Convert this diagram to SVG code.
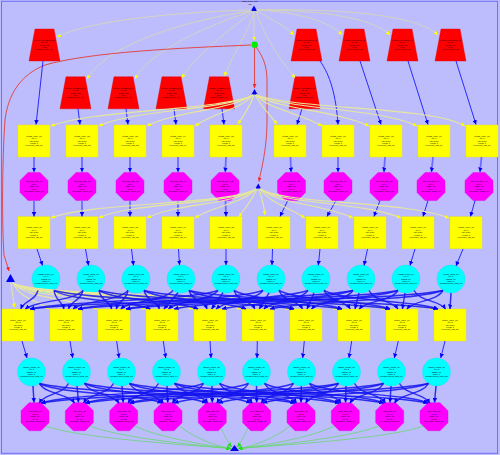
<svg xmlns="http://www.w3.org/2000/svg" width="500" height="455" viewBox="0 0 500 455">
<defs>
<style>
.tx{font-family:"Liberation Sans",Arial,sans-serif;font-size:2.2px;fill:#000;text-anchor:middle}
.tz{fill:#ff0000;stroke:#e00000;stroke-width:0.4}
.sq{fill:#ffff00;stroke:#e6e600;stroke-width:0.4}
.oc{fill:#ff00ff;stroke:#e600e6;stroke-width:0.4}
.ci{fill:#00ffff;stroke:#00e6e6;stroke-width:0.4}
.tri{fill:#0000ee}
path{fill:none}
.eg{stroke:#d6d6b8;stroke-width:0.9;marker-end:url(#ay)}
.ey{stroke:#e6e69c;stroke-width:1.1;marker-end:url(#ay)}
.er{stroke:#e04848;stroke-width:1;marker-end:url(#ar)}
.eb{stroke:#2a2aff;stroke-width:1;marker-end:url(#ab)}
.ebt{stroke:#6c6cff;stroke-width:1.8;marker-end:url(#ab)}
.ex{stroke:#1414f0;stroke-width:1.45;stroke-opacity:0.85;marker-end:url(#ab)}
.egr{stroke:#5fd85f;stroke-width:0.7;marker-end:url(#ag)}
</style>
<marker id="ab" viewBox="0 0 6 6" refX="6" refY="3" markerWidth="4.5" markerHeight="4.5" markerUnits="userSpaceOnUse" orient="auto"><path d="M0,0L6,3L0,6z" style="fill:#0000ff"/></marker>
<marker id="ay" viewBox="0 0 6 6" refX="6" refY="3" markerWidth="4" markerHeight="4" markerUnits="userSpaceOnUse" orient="auto"><path d="M0,0L6,3L0,6z" style="fill:#ffff00"/></marker>
<marker id="ar" viewBox="0 0 6 6" refX="6" refY="3" markerWidth="4" markerHeight="4" markerUnits="userSpaceOnUse" orient="auto"><path d="M0,0L6,3L0,6z" style="fill:#ff2020"/></marker>
<marker id="ag" viewBox="0 0 6 6" refX="6" refY="3" markerWidth="4.5" markerHeight="4.5" markerUnits="userSpaceOnUse" orient="auto"><path d="M0,0L6,3L0,6z" style="fill:#22dd22"/></marker>
<polygon id="tz" points="-9.5,-16 9.5,-16 15.5,16 -15.5,16"/>
<rect id="sq" x="-16" y="-16" width="32" height="32"/>
<polygon id="oc" points="-6,-14 6,-14 14,-6 14,6 6,14 -6,14 -14,6 -14,-6"/>
<circle id="ci" r="14"/>
</defs>
<rect width="500" height="455" fill="#bdbdfd"/>
<rect x="1.5" y="1.3" width="496" height="452" fill="none" stroke="#7070f0" stroke-width="1"/>

<g id="nodes">
<g id="top"><polygon class="tri" points="254,5.5 251,11 257,11"/><text class="tx"><tspan x="250" y="2.2">start_node_root</tspan><tspan x="250" y="4.8">init</tspan></text></g>
<g id="hub"><circle cx="254.7" cy="44.7" r="3.2" fill="#00ee00"/></g>
<g id="tri2"><polygon class="tri" points="254.5,89 251.5,94.5 257.5,94.5"/></g>
<g id="tri3"><polygon class="tri" points="258.3,183.5 255.5,188.5 261,188.5"/></g>
<g id="tri4"><polygon class="tri" points="10.5,274 6,282 15,282"/></g>
<g id="end"><polygon class="tri" points="234.5,445 230,451 239,451"/></g>

<g id="a1" transform="translate(44.5,45)"><use href="#tz" class="tz"/><text class="tx"><tspan x="0" y="-4.2">service_definition_01</tspan><tspan x="0" y="-1.9">id: 01</tspan><tspan x="0" y="1.2">mode: init</tspan><tspan x="0" y="3.1">in: 0</tspan><tspan x="0" y="5.2">source_node_01</tspan></text></g>
<g id="a2" transform="translate(306.5,45)"><use href="#tz" class="tz"/><text class="tx"><tspan x="0" y="-4.2">service_definition_02</tspan><tspan x="0" y="-1.9">id: 02</tspan><tspan x="0" y="1.2">mode: init</tspan><tspan x="0" y="3.1">in: 0</tspan><tspan x="0" y="5.2">source_node_02</tspan></text></g>
<g id="a3" transform="translate(354.5,45)"><use href="#tz" class="tz"/><text class="tx"><tspan x="0" y="-4.2">service_definition_03</tspan><tspan x="0" y="-1.9">id: 03</tspan><tspan x="0" y="1.2">mode: init</tspan><tspan x="0" y="3.1">in: 0</tspan><tspan x="0" y="5.2">source_node_03</tspan></text></g>
<g id="a4" transform="translate(402.5,45)"><use href="#tz" class="tz"/><text class="tx"><tspan x="0" y="-4.2">service_definition_04</tspan><tspan x="0" y="-1.9">id: 04</tspan><tspan x="0" y="1.2">mode: init</tspan><tspan x="0" y="3.1">in: 0</tspan><tspan x="0" y="5.2">source_node_04</tspan></text></g>
<g id="a5" transform="translate(450.5,45)"><use href="#tz" class="tz"/><text class="tx"><tspan x="0" y="-4.2">service_definition_05</tspan><tspan x="0" y="-1.9">id: 05</tspan><tspan x="0" y="1.2">mode: init</tspan><tspan x="0" y="3.1">in: 0</tspan><tspan x="0" y="5.2">source_node_05</tspan></text></g>
<g id="b1" transform="translate(75.5,92.8)"><use href="#tz" class="tz"/><text class="tx"><tspan x="0" y="-4.2">service_definition_06</tspan><tspan x="0" y="-1.9">id: 06</tspan><tspan x="0" y="1.2">mode: init</tspan><tspan x="0" y="3.1">in: 0</tspan><tspan x="0" y="5.2">source_node_06</tspan></text></g>
<g id="b2" transform="translate(123.5,92.8)"><use href="#tz" class="tz"/><text class="tx"><tspan x="0" y="-4.2">service_definition_07</tspan><tspan x="0" y="-1.9">id: 07</tspan><tspan x="0" y="1.2">mode: init</tspan><tspan x="0" y="3.1">in: 0</tspan><tspan x="0" y="5.2">source_node_07</tspan></text></g>
<g id="b3" transform="translate(171.5,92.8)"><use href="#tz" class="tz"/><text class="tx"><tspan x="0" y="-4.2">service_definition_08</tspan><tspan x="0" y="-1.9">id: 08</tspan><tspan x="0" y="1.2">mode: init</tspan><tspan x="0" y="3.1">in: 0</tspan><tspan x="0" y="5.2">source_node_08</tspan></text></g>
<g id="b4" transform="translate(219,92.8)"><use href="#tz" class="tz"/><text class="tx"><tspan x="0" y="-4.2">service_definition_09</tspan><tspan x="0" y="-1.9">id: 09</tspan><tspan x="0" y="1.2">mode: init</tspan><tspan x="0" y="3.1">in: 0</tspan><tspan x="0" y="5.2">source_node_09</tspan></text></g>
<g id="b5" transform="translate(304.5,92.8)"><use href="#tz" class="tz"/><text class="tx"><tspan x="0" y="-4.2">service_definition_10</tspan><tspan x="0" y="-1.9">id: 10</tspan><tspan x="0" y="1.2">mode: init</tspan><tspan x="0" y="3.1">in: 0</tspan><tspan x="0" y="5.2">source_node_10</tspan></text></g>

<g id="c1" transform="translate(34,141)"><use href="#sq" class="sq"/><text class="tx"><tspan x="0" y="-4.4">config_entry_01</tspan><tspan x="0" y="-1.9">op: 0</tspan><tspan x="0" y="0.6">val: none</tspan><tspan x="0" y="3">count: 1</tspan><tspan x="0" y="5.4">reference_list_01</tspan></text></g>
<g id="c2" transform="translate(82,141)"><use href="#sq" class="sq"/><text class="tx"><tspan x="0" y="-4.4">config_entry_02</tspan><tspan x="0" y="-1.9">op: 0</tspan><tspan x="0" y="0.6">val: none</tspan><tspan x="0" y="3">count: 1</tspan><tspan x="0" y="5.4">reference_list_02</tspan></text></g>
<g id="c3" transform="translate(130,141)"><use href="#sq" class="sq"/><text class="tx"><tspan x="0" y="-4.4">config_entry_03</tspan><tspan x="0" y="-1.9">op: 0</tspan><tspan x="0" y="0.6">val: none</tspan><tspan x="0" y="3">count: 1</tspan><tspan x="0" y="5.4">reference_list_03</tspan></text></g>
<g id="c4" transform="translate(178,141)"><use href="#sq" class="sq"/><text class="tx"><tspan x="0" y="-4.4">config_entry_04</tspan><tspan x="0" y="-1.9">op: 0</tspan><tspan x="0" y="0.6">val: none</tspan><tspan x="0" y="3">count: 1</tspan><tspan x="0" y="5.4">reference_list_04</tspan></text></g>
<g id="c5" transform="translate(226,141)"><use href="#sq" class="sq"/><text class="tx"><tspan x="0" y="-4.4">config_entry_05</tspan><tspan x="0" y="-1.9">op: 0</tspan><tspan x="0" y="0.6">val: none</tspan><tspan x="0" y="3">count: 1</tspan><tspan x="0" y="5.4">reference_list_05</tspan></text></g>
<g id="c6" transform="translate(290,141)"><use href="#sq" class="sq"/><text class="tx"><tspan x="0" y="-4.4">config_entry_06</tspan><tspan x="0" y="-1.9">op: 0</tspan><tspan x="0" y="0.6">val: none</tspan><tspan x="0" y="3">count: 1</tspan><tspan x="0" y="5.4">reference_list_06</tspan></text></g>
<g id="c7" transform="translate(338,141)"><use href="#sq" class="sq"/><text class="tx"><tspan x="0" y="-4.4">config_entry_07</tspan><tspan x="0" y="-1.9">op: 0</tspan><tspan x="0" y="0.6">val: none</tspan><tspan x="0" y="3">count: 1</tspan><tspan x="0" y="5.4">reference_list_07</tspan></text></g>
<g id="c8" transform="translate(386,141)"><use href="#sq" class="sq"/><text class="tx"><tspan x="0" y="-4.4">config_entry_08</tspan><tspan x="0" y="-1.9">op: 0</tspan><tspan x="0" y="0.6">val: none</tspan><tspan x="0" y="3">count: 1</tspan><tspan x="0" y="5.4">reference_list_08</tspan></text></g>
<g id="c9" transform="translate(434,141)"><use href="#sq" class="sq"/><text class="tx"><tspan x="0" y="-4.4">config_entry_09</tspan><tspan x="0" y="-1.9">op: 0</tspan><tspan x="0" y="0.6">val: none</tspan><tspan x="0" y="3">count: 1</tspan><tspan x="0" y="5.4">reference_list_09</tspan></text></g>
<g id="c10" transform="translate(482,141)"><use href="#sq" class="sq"/><text class="tx"><tspan x="0" y="-4.4">config_entry_10</tspan><tspan x="0" y="-1.9">op: 0</tspan><tspan x="0" y="0.6">val: none</tspan><tspan x="0" y="3">count: 1</tspan><tspan x="0" y="5.4">reference_list_10</tspan></text></g>

<g id="d1" transform="translate(34,186.5)"><use href="#oc" class="oc"/><text class="tx"><tspan x="0" y="-4.4">process_step_01</tspan><tspan x="0" y="-1.9">ref: 0</tspan><tspan x="0" y="0.6">state: on</tspan><tspan x="0" y="3">id: 1</tspan><tspan x="0" y="5.4">operation_result_01</tspan></text></g>
<g id="d2" transform="translate(82,186.5)"><use href="#oc" class="oc"/><text class="tx"><tspan x="0" y="-4.4">process_step_02</tspan><tspan x="0" y="-1.9">ref: 0</tspan><tspan x="0" y="0.6">state: on</tspan><tspan x="0" y="3">id: 2</tspan><tspan x="0" y="5.4">operation_result_02</tspan></text></g>
<g id="d3" transform="translate(130,186.5)"><use href="#oc" class="oc"/><text class="tx"><tspan x="0" y="-4.4">process_step_03</tspan><tspan x="0" y="-1.9">ref: 0</tspan><tspan x="0" y="0.6">state: on</tspan><tspan x="0" y="3">id: 3</tspan><tspan x="0" y="5.4">operation_result_03</tspan></text></g>
<g id="d4" transform="translate(178,186.5)"><use href="#oc" class="oc"/><text class="tx"><tspan x="0" y="-4.4">process_step_04</tspan><tspan x="0" y="-1.9">ref: 0</tspan><tspan x="0" y="0.6">state: on</tspan><tspan x="0" y="3">id: 4</tspan><tspan x="0" y="5.4">operation_result_04</tspan></text></g>
<g id="d5" transform="translate(225,186.5)"><use href="#oc" class="oc"/><text class="tx"><tspan x="0" y="-4.4">process_step_05</tspan><tspan x="0" y="-1.9">ref: 0</tspan><tspan x="0" y="0.6">state: on</tspan><tspan x="0" y="3">id: 5</tspan><tspan x="0" y="5.4">operation_result_05</tspan></text></g>
<g id="d6" transform="translate(291.5,186.5)"><use href="#oc" class="oc"/><text class="tx"><tspan x="0" y="-4.4">process_step_06</tspan><tspan x="0" y="-1.9">ref: 0</tspan><tspan x="0" y="0.6">state: on</tspan><tspan x="0" y="3">id: 6</tspan><tspan x="0" y="5.4">operation_result_06</tspan></text></g>
<g id="d7" transform="translate(338,186.5)"><use href="#oc" class="oc"/><text class="tx"><tspan x="0" y="-4.4">process_step_07</tspan><tspan x="0" y="-1.9">ref: 0</tspan><tspan x="0" y="0.6">state: on</tspan><tspan x="0" y="3">id: 7</tspan><tspan x="0" y="5.4">operation_result_07</tspan></text></g>
<g id="d8" transform="translate(384,186.5)"><use href="#oc" class="oc"/><text class="tx"><tspan x="0" y="-4.4">process_step_08</tspan><tspan x="0" y="-1.9">ref: 0</tspan><tspan x="0" y="0.6">state: on</tspan><tspan x="0" y="3">id: 8</tspan><tspan x="0" y="5.4">operation_result_08</tspan></text></g>
<g id="d9" transform="translate(431,186.5)"><use href="#oc" class="oc"/><text class="tx"><tspan x="0" y="-4.4">process_step_09</tspan><tspan x="0" y="-1.9">ref: 0</tspan><tspan x="0" y="0.6">state: on</tspan><tspan x="0" y="3">id: 9</tspan><tspan x="0" y="5.4">operation_result_09</tspan></text></g>
<g id="d10" transform="translate(479,186.5)"><use href="#oc" class="oc"/><text class="tx"><tspan x="0" y="-4.4">process_step_10</tspan><tspan x="0" y="-1.9">ref: 0</tspan><tspan x="0" y="0.6">state: on</tspan><tspan x="0" y="3">id: 10</tspan><tspan x="0" y="5.4">operation_result_10</tspan></text></g>

<g id="e1" transform="translate(34,232.7)"><use href="#sq" class="sq"/><text class="tx"><tspan x="0" y="-4.4">output_entry_01</tspan><tspan x="0" y="-1.9">op: 1</tspan><tspan x="0" y="0.6">val: none</tspan><tspan x="0" y="3">count: 1</tspan><tspan x="0" y="5.4">reference_list_11</tspan></text></g>
<g id="e2" transform="translate(82,232.7)"><use href="#sq" class="sq"/><text class="tx"><tspan x="0" y="-4.4">output_entry_02</tspan><tspan x="0" y="-1.9">op: 1</tspan><tspan x="0" y="0.6">val: none</tspan><tspan x="0" y="3">count: 1</tspan><tspan x="0" y="5.4">reference_list_12</tspan></text></g>
<g id="e3" transform="translate(130,232.7)"><use href="#sq" class="sq"/><text class="tx"><tspan x="0" y="-4.4">output_entry_03</tspan><tspan x="0" y="-1.9">op: 1</tspan><tspan x="0" y="0.6">val: none</tspan><tspan x="0" y="3">count: 1</tspan><tspan x="0" y="5.4">reference_list_13</tspan></text></g>
<g id="e4" transform="translate(178,232.7)"><use href="#sq" class="sq"/><text class="tx"><tspan x="0" y="-4.4">output_entry_04</tspan><tspan x="0" y="-1.9">op: 1</tspan><tspan x="0" y="0.6">val: none</tspan><tspan x="0" y="3">count: 1</tspan><tspan x="0" y="5.4">reference_list_14</tspan></text></g>
<g id="e5" transform="translate(226,232.7)"><use href="#sq" class="sq"/><text class="tx"><tspan x="0" y="-4.4">output_entry_05</tspan><tspan x="0" y="-1.9">op: 1</tspan><tspan x="0" y="0.6">val: none</tspan><tspan x="0" y="3">count: 1</tspan><tspan x="0" y="5.4">reference_list_15</tspan></text></g>
<g id="e6" transform="translate(274,232.7)"><use href="#sq" class="sq"/><text class="tx"><tspan x="0" y="-4.4">output_entry_06</tspan><tspan x="0" y="-1.9">op: 1</tspan><tspan x="0" y="0.6">val: none</tspan><tspan x="0" y="3">count: 1</tspan><tspan x="0" y="5.4">reference_list_16</tspan></text></g>
<g id="e7" transform="translate(322,232.7)"><use href="#sq" class="sq"/><text class="tx"><tspan x="0" y="-4.4">output_entry_07</tspan><tspan x="0" y="-1.9">op: 1</tspan><tspan x="0" y="0.6">val: none</tspan><tspan x="0" y="3">count: 1</tspan><tspan x="0" y="5.4">reference_list_17</tspan></text></g>
<g id="e8" transform="translate(370,232.7)"><use href="#sq" class="sq"/><text class="tx"><tspan x="0" y="-4.4">output_entry_08</tspan><tspan x="0" y="-1.9">op: 1</tspan><tspan x="0" y="0.6">val: none</tspan><tspan x="0" y="3">count: 1</tspan><tspan x="0" y="5.4">reference_list_18</tspan></text></g>
<g id="e9" transform="translate(418,232.7)"><use href="#sq" class="sq"/><text class="tx"><tspan x="0" y="-4.4">output_entry_09</tspan><tspan x="0" y="-1.9">op: 1</tspan><tspan x="0" y="0.6">val: none</tspan><tspan x="0" y="3">count: 1</tspan><tspan x="0" y="5.4">reference_list_19</tspan></text></g>
<g id="e10" transform="translate(466,232.7)"><use href="#sq" class="sq"/><text class="tx"><tspan x="0" y="-4.4">output_entry_10</tspan><tspan x="0" y="-1.9">op: 1</tspan><tspan x="0" y="0.6">val: none</tspan><tspan x="0" y="3">count: 1</tspan><tspan x="0" y="5.4">reference_list_20</tspan></text></g>

<g id="f1" transform="translate(46,279)"><use href="#ci" class="ci"/><text class="tx"><tspan x="0" y="-4.4">signal_input_01</tspan><tspan x="0" y="-1.9">ref: 1</tspan><tspan x="0" y="0.6">status: ok</tspan><tspan x="0" y="3">value: 0</tspan><tspan x="0" y="5.4">measurement_data_01</tspan></text></g>
<g id="f2" transform="translate(91,279)"><use href="#ci" class="ci"/><text class="tx"><tspan x="0" y="-4.4">signal_input_02</tspan><tspan x="0" y="-1.9">ref: 1</tspan><tspan x="0" y="0.6">status: ok</tspan><tspan x="0" y="3">value: 0</tspan><tspan x="0" y="5.4">measurement_data_02</tspan></text></g>
<g id="f3" transform="translate(136,279)"><use href="#ci" class="ci"/><text class="tx"><tspan x="0" y="-4.4">signal_input_03</tspan><tspan x="0" y="-1.9">ref: 1</tspan><tspan x="0" y="0.6">status: ok</tspan><tspan x="0" y="3">value: 0</tspan><tspan x="0" y="5.4">measurement_data_03</tspan></text></g>
<g id="f4" transform="translate(181,279)"><use href="#ci" class="ci"/><text class="tx"><tspan x="0" y="-4.4">signal_input_04</tspan><tspan x="0" y="-1.9">ref: 1</tspan><tspan x="0" y="0.6">status: ok</tspan><tspan x="0" y="3">value: 0</tspan><tspan x="0" y="5.4">measurement_data_04</tspan></text></g>
<g id="f5" transform="translate(226,279)"><use href="#ci" class="ci"/><text class="tx"><tspan x="0" y="-4.4">signal_input_05</tspan><tspan x="0" y="-1.9">ref: 1</tspan><tspan x="0" y="0.6">status: ok</tspan><tspan x="0" y="3">value: 0</tspan><tspan x="0" y="5.4">measurement_data_05</tspan></text></g>
<g id="f6" transform="translate(271,279)"><use href="#ci" class="ci"/><text class="tx"><tspan x="0" y="-4.4">signal_input_06</tspan><tspan x="0" y="-1.9">ref: 1</tspan><tspan x="0" y="0.6">status: ok</tspan><tspan x="0" y="3">value: 0</tspan><tspan x="0" y="5.4">measurement_data_06</tspan></text></g>
<g id="f7" transform="translate(316,279)"><use href="#ci" class="ci"/><text class="tx"><tspan x="0" y="-4.4">signal_input_07</tspan><tspan x="0" y="-1.9">ref: 1</tspan><tspan x="0" y="0.6">status: ok</tspan><tspan x="0" y="3">value: 0</tspan><tspan x="0" y="5.4">measurement_data_07</tspan></text></g>
<g id="f8" transform="translate(361,279)"><use href="#ci" class="ci"/><text class="tx"><tspan x="0" y="-4.4">signal_input_08</tspan><tspan x="0" y="-1.9">ref: 1</tspan><tspan x="0" y="0.6">status: ok</tspan><tspan x="0" y="3">value: 0</tspan><tspan x="0" y="5.4">measurement_data_08</tspan></text></g>
<g id="f9" transform="translate(406,279)"><use href="#ci" class="ci"/><text class="tx"><tspan x="0" y="-4.4">signal_input_09</tspan><tspan x="0" y="-1.9">ref: 1</tspan><tspan x="0" y="0.6">status: ok</tspan><tspan x="0" y="3">value: 0</tspan><tspan x="0" y="5.4">measurement_data_09</tspan></text></g>
<g id="f10" transform="translate(451,279)"><use href="#ci" class="ci"/><text class="tx"><tspan x="0" y="-4.4">signal_input_10</tspan><tspan x="0" y="-1.9">ref: 1</tspan><tspan x="0" y="0.6">status: ok</tspan><tspan x="0" y="3">value: 0</tspan><tspan x="0" y="5.4">measurement_data_10</tspan></text></g>

<g id="g1" transform="translate(18,325)"><use href="#sq" class="sq"/><text class="tx"><tspan x="0" y="-4.4">buffer_entry_01</tspan><tspan x="0" y="-1.9">op: 2</tspan><tspan x="0" y="0.6">val: none</tspan><tspan x="0" y="3">count: 1</tspan><tspan x="0" y="5.4">reference_list_21</tspan></text></g>
<g id="g2" transform="translate(66,325)"><use href="#sq" class="sq"/><text class="tx"><tspan x="0" y="-4.4">buffer_entry_02</tspan><tspan x="0" y="-1.9">op: 2</tspan><tspan x="0" y="0.6">val: none</tspan><tspan x="0" y="3">count: 1</tspan><tspan x="0" y="5.4">reference_list_22</tspan></text></g>
<g id="g3" transform="translate(114,325)"><use href="#sq" class="sq"/><text class="tx"><tspan x="0" y="-4.4">buffer_entry_03</tspan><tspan x="0" y="-1.9">op: 2</tspan><tspan x="0" y="0.6">val: none</tspan><tspan x="0" y="3">count: 1</tspan><tspan x="0" y="5.4">reference_list_23</tspan></text></g>
<g id="g4" transform="translate(162,325)"><use href="#sq" class="sq"/><text class="tx"><tspan x="0" y="-4.4">buffer_entry_04</tspan><tspan x="0" y="-1.9">op: 2</tspan><tspan x="0" y="0.6">val: none</tspan><tspan x="0" y="3">count: 1</tspan><tspan x="0" y="5.4">reference_list_24</tspan></text></g>
<g id="g5" transform="translate(210,325)"><use href="#sq" class="sq"/><text class="tx"><tspan x="0" y="-4.4">buffer_entry_05</tspan><tspan x="0" y="-1.9">op: 2</tspan><tspan x="0" y="0.6">val: none</tspan><tspan x="0" y="3">count: 1</tspan><tspan x="0" y="5.4">reference_list_25</tspan></text></g>
<g id="g6" transform="translate(258,325)"><use href="#sq" class="sq"/><text class="tx"><tspan x="0" y="-4.4">buffer_entry_06</tspan><tspan x="0" y="-1.9">op: 2</tspan><tspan x="0" y="0.6">val: none</tspan><tspan x="0" y="3">count: 1</tspan><tspan x="0" y="5.4">reference_list_26</tspan></text></g>
<g id="g7" transform="translate(306,325)"><use href="#sq" class="sq"/><text class="tx"><tspan x="0" y="-4.4">buffer_entry_07</tspan><tspan x="0" y="-1.9">op: 2</tspan><tspan x="0" y="0.6">val: none</tspan><tspan x="0" y="3">count: 1</tspan><tspan x="0" y="5.4">reference_list_27</tspan></text></g>
<g id="g8" transform="translate(354,325)"><use href="#sq" class="sq"/><text class="tx"><tspan x="0" y="-4.4">buffer_entry_08</tspan><tspan x="0" y="-1.9">op: 2</tspan><tspan x="0" y="0.6">val: none</tspan><tspan x="0" y="3">count: 1</tspan><tspan x="0" y="5.4">reference_list_28</tspan></text></g>
<g id="g9" transform="translate(402,325)"><use href="#sq" class="sq"/><text class="tx"><tspan x="0" y="-4.4">buffer_entry_09</tspan><tspan x="0" y="-1.9">op: 2</tspan><tspan x="0" y="0.6">val: none</tspan><tspan x="0" y="3">count: 1</tspan><tspan x="0" y="5.4">reference_list_29</tspan></text></g>
<g id="g10" transform="translate(450,325)"><use href="#sq" class="sq"/><text class="tx"><tspan x="0" y="-4.4">buffer_entry_10</tspan><tspan x="0" y="-1.9">op: 2</tspan><tspan x="0" y="0.6">val: none</tspan><tspan x="0" y="3">count: 1</tspan><tspan x="0" y="5.4">reference_list_30</tspan></text></g>

<g id="h1" transform="translate(31.5,372)"><use href="#ci" class="ci"/><text class="tx"><tspan x="0" y="-4.4">signal_output_01</tspan><tspan x="0" y="-1.9">ref: 2</tspan><tspan x="0" y="0.6">status: ok</tspan><tspan x="0" y="3">value: 1</tspan><tspan x="0" y="5.4">measurement_data_11</tspan></text></g>
<g id="h2" transform="translate(76.5,372)"><use href="#ci" class="ci"/><text class="tx"><tspan x="0" y="-4.4">signal_output_02</tspan><tspan x="0" y="-1.9">ref: 2</tspan><tspan x="0" y="0.6">status: ok</tspan><tspan x="0" y="3">value: 1</tspan><tspan x="0" y="5.4">measurement_data_12</tspan></text></g>
<g id="h3" transform="translate(121.5,372)"><use href="#ci" class="ci"/><text class="tx"><tspan x="0" y="-4.4">signal_output_03</tspan><tspan x="0" y="-1.9">ref: 2</tspan><tspan x="0" y="0.6">status: ok</tspan><tspan x="0" y="3">value: 1</tspan><tspan x="0" y="5.4">measurement_data_13</tspan></text></g>
<g id="h4" transform="translate(166.5,372)"><use href="#ci" class="ci"/><text class="tx"><tspan x="0" y="-4.4">signal_output_04</tspan><tspan x="0" y="-1.9">ref: 2</tspan><tspan x="0" y="0.6">status: ok</tspan><tspan x="0" y="3">value: 1</tspan><tspan x="0" y="5.4">measurement_data_14</tspan></text></g>
<g id="h5" transform="translate(211.5,372)"><use href="#ci" class="ci"/><text class="tx"><tspan x="0" y="-4.4">signal_output_05</tspan><tspan x="0" y="-1.9">ref: 2</tspan><tspan x="0" y="0.6">status: ok</tspan><tspan x="0" y="3">value: 1</tspan><tspan x="0" y="5.4">measurement_data_15</tspan></text></g>
<g id="h6" transform="translate(256.5,372)"><use href="#ci" class="ci"/><text class="tx"><tspan x="0" y="-4.4">signal_output_06</tspan><tspan x="0" y="-1.9">ref: 2</tspan><tspan x="0" y="0.6">status: ok</tspan><tspan x="0" y="3">value: 1</tspan><tspan x="0" y="5.4">measurement_data_16</tspan></text></g>
<g id="h7" transform="translate(301.5,372)"><use href="#ci" class="ci"/><text class="tx"><tspan x="0" y="-4.4">signal_output_07</tspan><tspan x="0" y="-1.9">ref: 2</tspan><tspan x="0" y="0.6">status: ok</tspan><tspan x="0" y="3">value: 1</tspan><tspan x="0" y="5.4">measurement_data_17</tspan></text></g>
<g id="h8" transform="translate(346.5,372)"><use href="#ci" class="ci"/><text class="tx"><tspan x="0" y="-4.4">signal_output_08</tspan><tspan x="0" y="-1.9">ref: 2</tspan><tspan x="0" y="0.6">status: ok</tspan><tspan x="0" y="3">value: 1</tspan><tspan x="0" y="5.4">measurement_data_18</tspan></text></g>
<g id="h9" transform="translate(391.5,372)"><use href="#ci" class="ci"/><text class="tx"><tspan x="0" y="-4.4">signal_output_09</tspan><tspan x="0" y="-1.9">ref: 2</tspan><tspan x="0" y="0.6">status: ok</tspan><tspan x="0" y="3">value: 1</tspan><tspan x="0" y="5.4">measurement_data_19</tspan></text></g>
<g id="h10" transform="translate(436.5,372)"><use href="#ci" class="ci"/><text class="tx"><tspan x="0" y="-4.4">signal_output_10</tspan><tspan x="0" y="-1.9">ref: 2</tspan><tspan x="0" y="0.6">status: ok</tspan><tspan x="0" y="3">value: 1</tspan><tspan x="0" y="5.4">measurement_data_20</tspan></text></g>

<g id="k1" transform="translate(35,416.7)"><use href="#oc" class="oc"/><text class="tx"><tspan x="0" y="-4.4">final_step_01</tspan><tspan x="0" y="-1.9">ref: 3</tspan><tspan x="0" y="0.6">state: off</tspan><tspan x="0" y="3">id: 11</tspan><tspan x="0" y="5.4">operation_result_11</tspan></text></g>
<g id="k2" transform="translate(79.3,416.7)"><use href="#oc" class="oc"/><text class="tx"><tspan x="0" y="-4.4">final_step_02</tspan><tspan x="0" y="-1.9">ref: 3</tspan><tspan x="0" y="0.6">state: off</tspan><tspan x="0" y="3">id: 12</tspan><tspan x="0" y="5.4">operation_result_12</tspan></text></g>
<g id="k3" transform="translate(123.7,416.7)"><use href="#oc" class="oc"/><text class="tx"><tspan x="0" y="-4.4">final_step_03</tspan><tspan x="0" y="-1.9">ref: 3</tspan><tspan x="0" y="0.6">state: off</tspan><tspan x="0" y="3">id: 13</tspan><tspan x="0" y="5.4">operation_result_13</tspan></text></g>
<g id="k4" transform="translate(168,416.7)"><use href="#oc" class="oc"/><text class="tx"><tspan x="0" y="-4.4">final_step_04</tspan><tspan x="0" y="-1.9">ref: 3</tspan><tspan x="0" y="0.6">state: off</tspan><tspan x="0" y="3">id: 14</tspan><tspan x="0" y="5.4">operation_result_14</tspan></text></g>
<g id="k5" transform="translate(212.3,416.7)"><use href="#oc" class="oc"/><text class="tx"><tspan x="0" y="-4.4">final_step_05</tspan><tspan x="0" y="-1.9">ref: 3</tspan><tspan x="0" y="0.6">state: off</tspan><tspan x="0" y="3">id: 15</tspan><tspan x="0" y="5.4">operation_result_15</tspan></text></g>
<g id="k6" transform="translate(256.7,416.7)"><use href="#oc" class="oc"/><text class="tx"><tspan x="0" y="-4.4">final_step_06</tspan><tspan x="0" y="-1.9">ref: 3</tspan><tspan x="0" y="0.6">state: off</tspan><tspan x="0" y="3">id: 16</tspan><tspan x="0" y="5.4">operation_result_16</tspan></text></g>
<g id="k7" transform="translate(301,416.7)"><use href="#oc" class="oc"/><text class="tx"><tspan x="0" y="-4.4">final_step_07</tspan><tspan x="0" y="-1.9">ref: 3</tspan><tspan x="0" y="0.6">state: off</tspan><tspan x="0" y="3">id: 17</tspan><tspan x="0" y="5.4">operation_result_17</tspan></text></g>
<g id="k8" transform="translate(345.3,416.7)"><use href="#oc" class="oc"/><text class="tx"><tspan x="0" y="-4.4">final_step_08</tspan><tspan x="0" y="-1.9">ref: 3</tspan><tspan x="0" y="0.6">state: off</tspan><tspan x="0" y="3">id: 18</tspan><tspan x="0" y="5.4">operation_result_18</tspan></text></g>
<g id="k9" transform="translate(389.7,416.7)"><use href="#oc" class="oc"/><text class="tx"><tspan x="0" y="-4.4">final_step_09</tspan><tspan x="0" y="-1.9">ref: 3</tspan><tspan x="0" y="0.6">state: off</tspan><tspan x="0" y="3">id: 19</tspan><tspan x="0" y="5.4">operation_result_19</tspan></text></g>
<g id="k10" transform="translate(434,416.7)"><use href="#oc" class="oc"/><text class="tx"><tspan x="0" y="-4.4">final_step_10</tspan><tspan x="0" y="-1.9">ref: 3</tspan><tspan x="0" y="0.6">state: off</tspan><tspan x="0" y="3">id: 20</tspan><tspan x="0" y="5.4">operation_result_20</tspan></text></g>
</g>

<g id="connectors">
<path class="eg" d="M254,11L254,40.5"/>
<path class="eg" d="M250,10C180,12 90,20 57,37"/>
<path class="eg" d="M251,11C200,18 110,40 87,79"/>
<path class="eg" d="M252,11C210,25 150,50 135,79"/>
<path class="eg" d="M253,11C230,30 195,55 182,78"/>
<path class="eg" d="M254,11C250,30 232,55 224.5,76"/>
<path class="eg" d="M256,11C270,18 285,26 294,35"/>
<path class="eg" d="M256,11C265,40 285,65 295,78"/>
<path class="eg" d="M257,10C300,12 330,22 342,35"/>
<path class="eg" d="M257,10C330,10 375,20 390,35"/>
<path class="eg" d="M257,10C360,8 420,18 438,35"/>

<path class="er" d="M251,45C180,48 90,52 45,65C20,75 8,95 5,120C2,160 2,230 4,255L9,271"/>
<path class="er" d="M254.5,48L254.5,88"/>
<path class="er" d="M256,47C262,55 267,65 267,80L267,120C267,150 261,170 259,181.5"/>

<path class="eb" d="M43,61L36,124.5"/>
<path class="eb" d="M78,108.8L80,124.5"/>
<path class="eb" d="M126,108.8L128,124.5"/>
<path class="eb" d="M174,108.8L176,124.5"/>
<path class="eb" d="M222,108.8L224,124.5"/>
<path class="eb" d="M302,108.8L297,124.5"/>
<path class="eb" d="M320,61C330,75 336,95 338,124.5"/>
<path class="eb" d="M360,61L381,124.5"/>
<path class="eb" d="M408,61L428,124.5"/>
<path class="eb" d="M456,61L476,124.5"/>

<path class="ey" d="M253,95C225,110 90,110 51,126"/>
<path class="ey" d="M253,95C228,110 130,110 99,126"/>
<path class="ey" d="M253,95C232,110 175,111 147,126"/>
<path class="ey" d="M253,95C240,110 215,112 195,126"/>
<path class="ey" d="M254,95C250,107 244,115 238,124"/>
<path class="ey" d="M255,95C262,107 270,115 277,124"/>
<path class="ey" d="M256,95C270,110 300,113 322,126"/>
<path class="ey" d="M256,95C280,110 335,110 369,126"/>
<path class="ey" d="M256,95C290,110 380,108 417,126"/>
<path class="ey" d="M256,95C300,110 430,106 465,126"/>

<path class="ebt" d="M34,157L34,172"/>
<path class="ebt" d="M82,157L82,172"/>
<path class="ebt" d="M130,157L130,172"/>
<path class="ebt" d="M178,157L178,172"/>
<path class="ebt" d="M226,157L225.3,172"/>
<path class="ebt" d="M290.5,157L291,172"/>
<path class="ebt" d="M338,157L338,172"/>
<path class="ebt" d="M385,157L384,172"/>
<path class="ebt" d="M433,157L431.5,172"/>
<path class="ebt" d="M481.5,157L480,172"/>

<path class="ebt" d="M34,200.5L34,216.5"/>
<path class="ebt" d="M82,200.5L82,216.5"/>
<path class="ebt" d="M130,200.5L130,216.5"/>
<path class="ebt" d="M178,200.5L178,216.5"/>
<path class="ebt" d="M225.5,200.5L226,216.5"/>
<path class="eb" d="M288,200L280,216.5"/>
<path class="eb" d="M336,200.5L327,216.5"/>
<path class="eb" d="M380,200.5L374,216.5"/>
<path class="eb" d="M428,200.5L423,216.5"/>
<path class="eb" d="M475,200.5L470.5,216.5"/>

<path class="ey" d="M256,189C230,205 90,202 51,218"/>
<path class="ey" d="M256,189C232,205 130,202 99,218"/>
<path class="ey" d="M256,189C235,205 175,203 147,218"/>
<path class="ey" d="M256,189C240,205 215,205 195,218"/>
<path class="ey" d="M257,189C252,200 245,208 239,217"/>
<path class="ey" d="M259,189C262,198 264,206 265,215"/>
<path class="ey" d="M260,189C270,203 290,208 305,218"/>
<path class="ey" d="M260,189C280,205 320,203 353,218"/>
<path class="ey" d="M260,189C285,205 360,201 401,218"/>
<path class="ey" d="M260,189C290,205 400,200 449,218"/>

<path class="eb" d="M37,249L42.5,265.5"/>
<path class="eb" d="M85.5,249L88.5,265.5"/>
<path class="eb" d="M131.5,249L133.5,265.5"/>
<path class="eb" d="M178.5,249L179.5,265"/>
<path class="eb" d="M226,249L226,265"/>
<path class="eb" d="M272.5,249L272,265"/>
<path class="eb" d="M320,249L318.3,265.3"/>
<path class="eb" d="M367.5,249L364,265.5"/>
<path class="eb" d="M415,249L410,265.5"/>
<path class="eb" d="M463,249L456,266"/>

<path class="ey" d="M11,283L14.5,307.5"/>
<path class="ey" d="M13,283C20,298 35,300 49,309"/>
<path class="ey" d="M13,283C24,298 70,298 97,309"/>
<path class="ey" d="M13,283C26,298 110,297 145,309"/>
<path class="ey" d="M13,283C28,298 150,296 193,309"/>
<path class="ey" d="M13,283C30,298 190,296 241,309"/>
<path class="ey" d="M13,283C30,298 230,296 289,309"/>
<path class="ey" d="M13,283C30,298 270,296 337,309"/>
<path class="ey" d="M13,283C30,298 310,296 385,309"/>
<path class="ey" d="M13,283C30,298 350,296 433,309"/>

<path class="ex" d="M38,290.5C34.6,302 24.2,300 20.8,309"/>
<path class="ex" d="M54,290.5C56,302 62,300 64,309"/>
<path class="ex" d="M54,290.5C73.3,302 131.1,300 150.4,309"/>
<path class="ex" d="M54,290.5C102,302 246,300 294,309"/>
<path class="ex" d="M83,290.5C71.5,302 36.8,300 25.3,309"/>
<path class="ex" d="M83,290.5C80.1,302 71.4,300 68.5,309"/>
<path class="ex" d="M99,290.5C101.5,302 109.2,300 111.7,309"/>
<path class="ex" d="M99,290.5C118.8,302 178.3,300 198.1,309"/>
<path class="ex" d="M99,290.5C147.6,302 293.4,300 342,309"/>
<path class="ex" d="M128,290.5C117,302 84,300 73,309"/>
<path class="ex" d="M128,290.5C125.6,302 118.6,300 116.2,309"/>
<path class="ex" d="M144,290.5C147.1,302 156.3,300 159.4,309"/>
<path class="ex" d="M144,290.5C164.4,302 225.6,300 246,309"/>
<path class="ex" d="M144,290.5C193.2,302 340.8,300 390,309"/>
<path class="ex" d="M173,290.5C162.5,302 131.2,300 120.7,309"/>
<path class="ex" d="M178,292.7L163.9,309"/>
<path class="ex" d="M189,290.5C192.6,302 203.5,300 207.1,309"/>
<path class="ex" d="M189,290.5C210,302 273,300 294,309"/>
<path class="ex" d="M189,290.5C238.8,302 388.2,300 438,309"/>
<path class="ex" d="M218,290.5C208.1,302 178.3,300 168.4,309"/>
<path class="ex" d="M223,292.7L211.6,309"/>
<path class="ex" d="M234,290.5C238.2,302 250.6,300 254.8,309"/>
<path class="ex" d="M234,290.5C255.6,302 320.4,300 342,309"/>
<path class="ex" d="M218,290.5C180.4,302 67.6,300 30,309"/>
<path class="ex" d="M263,290.5C253.6,302 225.5,300 216.1,309"/>
<path class="ex" d="M269,292.8L259.3,309"/>
<path class="ex" d="M279,290.5C283.7,302 297.8,300 302.5,309"/>
<path class="ex" d="M279,290.5C301.2,302 367.8,300 390,309"/>
<path class="ex" d="M263,290.5C226,302 115,300 78,309"/>
<path class="ex" d="M308,290.5C299.2,302 272.6,300 263.8,309"/>
<path class="ex" d="M314,292.9L307,309"/>
<path class="ex" d="M324,290.5C329.2,302 345,300 350.2,309"/>
<path class="ex" d="M324,290.5C346.8,302 415.2,300 438,309"/>
<path class="ex" d="M308,290.5C271.6,302 162.4,300 126,309"/>
<path class="ex" d="M353,290.5C344.7,302 319.8,300 311.5,309"/>
<path class="ex" d="M359,293L355,309"/>
<path class="ex" d="M369,290.5C374.8,302 392.1,300 397.9,309"/>
<path class="ex" d="M353,290.5C288.4,302 94.6,300 30,309"/>
<path class="ex" d="M353,290.5C317.2,302 209.8,300 174,309"/>
<path class="ex" d="M398,290.5C390.2,302 367,300 359.2,309"/>
<path class="ex" d="M405,293L402.4,309"/>
<path class="ex" d="M414,290.5C420.3,302 439.3,300 445.6,309"/>
<path class="ex" d="M398,290.5C334,302 142,300 78,309"/>
<path class="ex" d="M398,290.5C362.8,302 257.2,300 222,309"/>
<path class="ex" d="M443,290.5C435.8,302 414.1,300 406.9,309"/>
<path class="ex" d="M451,293L450,309"/>
<path class="ex" d="M443,290.5C379.6,302 189.4,300 126,309"/>
<path class="ex" d="M443,290.5C408.4,302 304.6,300 270,309"/>

<path class="eb" d="M22,341L27,358"/>
<path class="eb" d="M70,341L72.7,358"/>
<path class="eb" d="M116.7,341L119,358"/>
<path class="eb" d="M163.3,341L165.7,358"/>
<path class="eb" d="M210,341L211,358"/>
<path class="eb" d="M257.3,341L257,358"/>
<path class="eb" d="M304.3,341L302.7,358"/>
<path class="eb" d="M351.7,341L349,358"/>
<path class="eb" d="M398.3,341L394.3,358"/>
<path class="eb" d="M445,341L440.7,358"/>

<path class="ex" d="M33,386L34,402.5"/>
<path class="ex" d="M39.5,383.5C46.5,395 67.5,393 74.5,403"/>
<path class="ex" d="M39.5,383.5C64,395 137.5,393 162,403"/>
<path class="ex" d="M39.5,383.5C90.6,395 243.9,393 295,403"/>
<path class="ex" d="M68.5,383.5C62.6,395 45.1,393 39.2,403"/>
<path class="ex" d="M77,386L78.5,402.5"/>
<path class="ex" d="M84.5,383.5C91.4,395 112.1,393 119,403"/>
<path class="ex" d="M84.5,383.5C108.9,395 181.9,393 206.3,403"/>
<path class="ex" d="M84.5,383.5C135.5,395 288.3,393 339.3,403"/>
<path class="ex" d="M113.5,383.5C107.5,395 89.5,393 83.5,403"/>
<path class="ex" d="M122,386L123.2,402.5"/>
<path class="ex" d="M129.5,383.5C136.3,395 156.5,393 163.3,403"/>
<path class="ex" d="M129.5,383.5C153.7,395 226.5,393 250.7,403"/>
<path class="ex" d="M129.5,383.5C180.3,395 332.9,393 383.7,403"/>
<path class="ex" d="M158.5,383.5C152.4,395 134.1,393 128,403"/>
<path class="ex" d="M167,386L167.8,402.5"/>
<path class="ex" d="M174.5,383.5C181.1,395 201.1,393 207.7,403"/>
<path class="ex" d="M174.5,383.5C198.6,395 270.9,393 295,403"/>
<path class="ex" d="M174.5,383.5C225.2,395 377.3,393 428,403"/>
<path class="ex" d="M203.5,383.5C197.3,395 178.6,393 172.4,403"/>
<path class="ex" d="M212,386L212.3,402.5"/>
<path class="ex" d="M219.5,383.5C226,395 245.7,393 252.2,403"/>
<path class="ex" d="M219.5,383.5C243.5,395 315.3,393 339.3,403"/>
<path class="ex" d="M203.5,383.5C171,395 73.5,393 41,403"/>
<path class="ex" d="M248.5,383.5C242.1,395 223.1,393 216.7,403"/>
<path class="ex" d="M256.5,386L256.7,402.5"/>
<path class="ex" d="M264.5,383.5C270.9,395 290.1,393 296.5,403"/>
<path class="ex" d="M264.5,383.5C288.3,395 359.9,393 383.7,403"/>
<path class="ex" d="M248.5,383.5C215.9,395 117.9,393 85.3,403"/>
<path class="ex" d="M293.5,383.5C287,395 267.7,393 261.2,403"/>
<path class="ex" d="M301.3,386L301,402.5"/>
<path class="ex" d="M309.5,383.5C315.8,395 334.6,393 340.9,403"/>
<path class="ex" d="M309.5,383.5C333.2,395 404.3,393 428,403"/>
<path class="ex" d="M293.5,383.5C260.7,395 162.5,393 129.7,403"/>
<path class="ex" d="M338.5,383.5C331.9,395 312.1,393 305.5,403"/>
<path class="ex" d="M346,386L345.5,402.5"/>
<path class="ex" d="M354.5,383.5C360.7,395 379.2,393 385.4,403"/>
<path class="ex" d="M338.5,383.5C279,395 100.5,393 41,403"/>
<path class="ex" d="M338.5,383.5C305.6,395 206.9,393 174,403"/>
<path class="ex" d="M383.5,383.5C376.8,395 356.6,393 349.9,403"/>
<path class="ex" d="M391,386L390,402.5"/>
<path class="ex" d="M399.5,383.5C405.6,395 423.7,393 429.8,403"/>
<path class="ex" d="M383.5,383.5C323.9,395 144.9,393 85.3,403"/>
<path class="ex" d="M383.5,383.5C350.5,395 251.3,393 218.3,403"/>
<path class="ex" d="M428.5,383.5C421.7,395 401.2,393 394.4,403"/>
<path class="ex" d="M436,386L434.5,402.5"/>
<path class="ex" d="M428.5,383.5C368.7,395 189.5,393 129.7,403"/>
<path class="ex" d="M428.5,383.5C395.3,395 295.9,393 262.7,403"/>

<path class="egr" d="M46,426C75,438 200,446 231,448.5"/>
<path class="egr" d="M90.3,426C119,438 205,446 231,448.5"/>
<path class="egr" d="M134.7,426C160,438 210,446 231,448.5"/>
<path class="egr" d="M179,426C195,438 215,446 231,448.5"/>
<path class="egr" d="M221,428C226,438 229,444 232,447"/>
<path class="egr" d="M248,428C243,438 240,444 237,447"/>
<path class="egr" d="M290,426C275,438 255,446 238,448.5"/>
<path class="egr" d="M334.3,426C310,438 262,446 238,448.5"/>
<path class="egr" d="M378.7,426C350,438 268,446 238,448.5"/>
<path class="egr" d="M423,426C395,438 272,446 238,448.5"/>
</g>
</svg>
